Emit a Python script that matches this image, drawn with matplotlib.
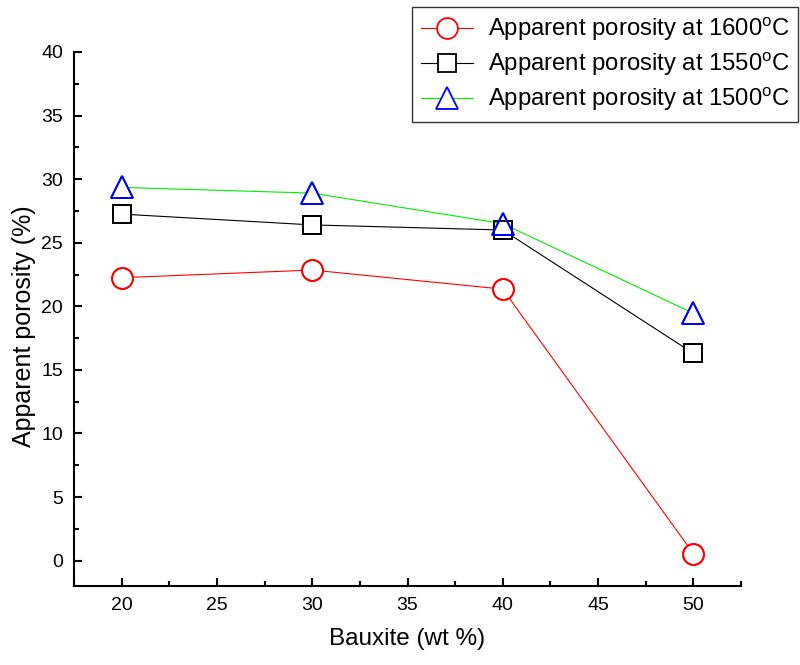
import matplotlib
matplotlib.use('Agg')
import matplotlib.pyplot as plt
from matplotlib.ticker import MultipleLocator

plt.rcParams['font.family'] = ['Liberation Sans', 'DejaVu Sans']
plt.rcParams['mathtext.fontset'] = 'custom'
plt.rcParams['mathtext.rm'] = 'Liberation Sans'

# bauxite content (wt %)
bauxite = [20, 30, 40, 50]

# apparent porosity (%) at each firing temperature
porosity_1600 = [22.25, 22.85, 21.35, 0.55]
porosity_1550 = [27.25, 26.4, 26.0, 16.3]
porosity_1500 = [29.35, 28.9, 26.5, 19.45]

labels = ['Apparent porosity at 1600$^\\mathrm{o}$C',
          'Apparent porosity at 1550$^\\mathrm{o}$C',
          'Apparent porosity at 1500$^\\mathrm{o}$C']

fig = plt.figure(figsize=(8, 6.65), dpi=100)
ax = fig.add_axes([74/800, 1-586/665, (741-74)/800, (586-52)/665])

series = [
    (porosity_1600, 'red', 'o', 15, 'red'),
    (porosity_1550, 'black', 's', 12.5, 'black'),
    (porosity_1500, '#00ee00', '^', 16, 'blue'),
]

handles = []
for (vals, lc, mk, ms, mc), lab in zip(series, labels):
    h, = ax.plot(bauxite, vals, color=lc, lw=0.8, marker=mk, ms=ms,
                 mfc='white', mec=mc, mew=1.3, label=lab, zorder=2)
    handles.append(h)
# hollow marker edges on top so overlapping symbols stay visible
for vals, lc, mk, ms, mc in series:
    ax.plot(bauxite, vals, ls='none', marker=mk, ms=ms, mfc='none',
            mec=mc, mew=1.3, zorder=3)

ax.set_xlim(17.5, 52.5)
ax.set_ylim(-2, 40)
ax.xaxis.set_major_locator(MultipleLocator(5))
ax.xaxis.set_minor_locator(MultipleLocator(2.5))
ax.yaxis.set_major_locator(MultipleLocator(5))
ax.yaxis.set_minor_locator(MultipleLocator(2.5))

ax.spines['top'].set_visible(False)
ax.spines['right'].set_visible(False)
ax.spines['left'].set_linewidth(1.5)
ax.spines['bottom'].set_linewidth(1.5)
ax.tick_params(which='major', direction='in', length=6, width=1.5,
               labelsize=14, pad=8)
ax.tick_params(which='minor', direction='in', length=3.5, width=1.5)

ax.set_xlabel('Bauxite (wt %)', fontsize=17.5, labelpad=10)
ax.set_ylabel('Apparent porosity (%)', fontsize=18)
ax.yaxis.set_label_coords(-0.057, 0.487)

leg = fig.legend(handles=handles, loc='upper right',
                 bbox_to_anchor=(798/800, 1-7/665), borderaxespad=0,
                 fontsize=17.2, fancybox=False, framealpha=1,
                 edgecolor='#333333', handlelength=2.2, handletextpad=0.6,
                 labelspacing=0.3, borderpad=0.35)
leg.get_frame().set_linewidth(1.0)

fig.savefig('out.png', dpi=100)
